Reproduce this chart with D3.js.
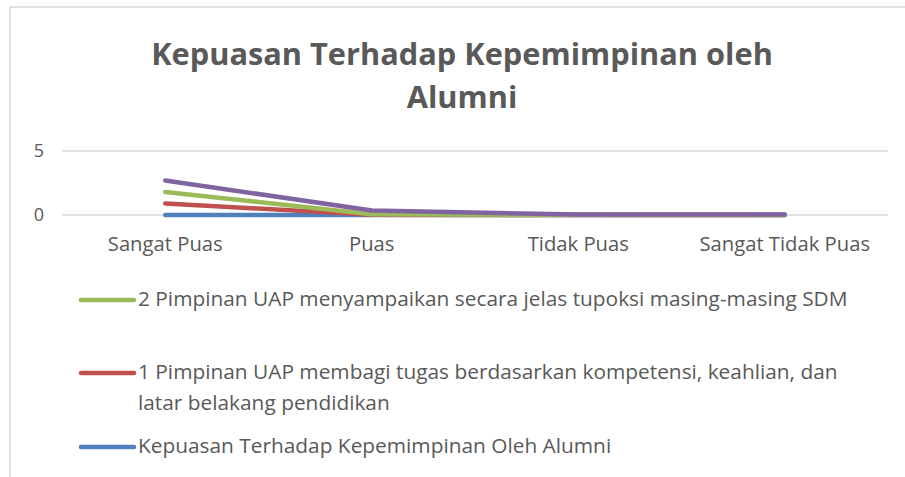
<!DOCTYPE html>
<html>
<head>
<meta charset="utf-8">
<script src="https://cdn.jsdelivr.net/npm/d3@7"></script>
<style>
  body { margin: 0; background: #fff; }
  text { font-family: "Open Sans", sans-serif; fill: #595959; }
</style>
</head>
<body>
<script>
// data (stacked line chart)
var categories = ["Sangat Puas", "Puas", "Tidak Puas", "Sangat Tidak Puas"];
var seriesNames = ["Kepuasan Terhadap Kepemimpinan Oleh Alumni",
                   "1 Pimpinan UAP membagi tugas berdasarkan kompetensi, keahlian, dan latar belakang pendidikan",
                   "2 Pimpinan UAP menyampaikan secara jelas tupoksi masing-masing SDM",
                   "3"];
var blueValues   = [0, 0, 0, 0];
var redValues    = [0.9, 0.02, 0, 0];
var greenValues  = [0.9, 0.03, 0.01, 0];
var purpleValues = [0.9, 0.3, 0.03, 0.04];
var yTicks = [0, 5];
var colors = ["#4f81bd", "#c0504d", "#9bbb59", "#8064a2"];

var W = 905, H = 477;
var margin = {left: 62, right: 17};
var plotW = W - margin.left - margin.right;

var svg = d3.select("body").append("svg")
    .attr("width", W)
    .attr("height", H);

// scale font so the text spans the width seen in the picture
function fit(sel, width) {
  var fs = parseFloat(sel.style("font-size"));
  var len = sel.node().getComputedTextLength();
  sel.style("font-size", (fs * width / len) + "px");
}

// chart border
svg.append("rect")
    .attr("x", 10).attr("y", 7)
    .attr("width", W + 20).attr("height", H + 20)
    .attr("fill", "none")
    .attr("stroke", "#d9d9d9")
    .attr("stroke-width", 1.5);

// title
var t1 = svg.append("text")
    .attr("x", 462).attr("y", 65)
    .attr("text-anchor", "middle")
    .style("font-weight", "bold")
    .style("font-size", "28px")
    .text("Kepuasan Terhadap Kepemimpinan oleh");
fit(t1, 622);
svg.append("text")
    .attr("x", 462).attr("y", 108)
    .attr("text-anchor", "middle")
    .style("font-weight", "bold")
    .style("font-size", t1.style("font-size"))
    .text("Alumni");

var x = d3.scaleBand()
    .domain(categories)
    .range([margin.left, margin.left + plotW]);
var y = d3.scaleLinear()
    .domain([0, 5])
    .range([215, 151]);

// gridlines
svg.append("g").selectAll("line")
    .data(yTicks)
  .enter().append("line")
    .attr("x1", margin.left).attr("x2", margin.left + plotW)
    .attr("y1", function(d) { return y(d); })
    .attr("y2", function(d) { return y(d); })
    .attr("stroke", "#d9d9d9")
    .attr("stroke-width", 1.5);

// y axis labels
svg.append("g").selectAll("text")
    .data(yTicks)
  .enter().append("text")
    .attr("x", 44)
    .attr("y", function(d) { return y(d); })
    .attr("dy", "0.35em")
    .attr("text-anchor", "end")
    .style("font-size", "18px")
    .text(function(d) { return d; });

// x axis labels
var xl = svg.append("g").selectAll("text")
    .data(categories)
  .enter().append("text")
    .attr("x", function(d) { return x(d) + x.bandwidth() / 2; })
    .attr("y", 251)
    .attr("text-anchor", "middle")
    .style("font-size", "17px")
    .text(function(d) { return d; });
fit(d3.select(xl.nodes()[0]), 115);
xl.style("font-size", d3.select(xl.nodes()[0]).style("font-size"));

// stack the series
var table = categories.map(function(c, i) {
  return {cat: c, s0: blueValues[i], s1: redValues[i], s2: greenValues[i], s3: purpleValues[i]};
});
var stacked = d3.stack().keys(["s0", "s1", "s2", "s3"])(table);

var line = d3.line()
    .x(function(d) { return x(d.data.cat) + x.bandwidth() / 2; })
    .y(function(d) { return y(d[1]); });

svg.append("g").selectAll("path")
    .data(stacked)
  .enter().append("path")
    .attr("d", line)
    .attr("fill", "none")
    .attr("stroke", function(d, i) { return colors[i]; })
    .attr("stroke-width", 4.5)
    .attr("stroke-linecap", "round")
    .attr("stroke-linejoin", "round");

// legend (order as in the picture)
var legend = [
  {i: 2, y: 300, lines: ["2 Pimpinan UAP menyampaikan secara jelas tupoksi masing-masing SDM"]},
  {i: 1, y: 373, lines: ["1 Pimpinan UAP membagi tugas berdasarkan kompetensi, keahlian, dan", "latar belakang pendidikan"]},
  {i: 0, y: 447, lines: ["Kepuasan Terhadap Kepemimpinan Oleh Alumni"]}
];
var lg = svg.append("g").selectAll("g")
    .data(legend)
  .enter().append("g");
lg.append("line")
    .attr("x1", 81).attr("x2", 134)
    .attr("y1", function(d) { return d.y; })
    .attr("y2", function(d) { return d.y; })
    .attr("stroke", function(d) { return colors[d.i]; })
    .attr("stroke-width", 4.5)
    .attr("stroke-linecap", "round");
var lt = lg.append("text")
    .style("font-size", "19px")
    .each(function(d) {
      var t = d3.select(this);
      d.lines.forEach(function(l, k) {
        t.append("tspan")
          .attr("x", 138)
          .attr("y", d.y + 6 + k * 31)
          .text(l);
      });
    });
fit(d3.select(lt.nodes()[0]), 710);
lt.style("font-size", d3.select(lt.nodes()[0]).style("font-size"));
</script>
</body>
</html>
